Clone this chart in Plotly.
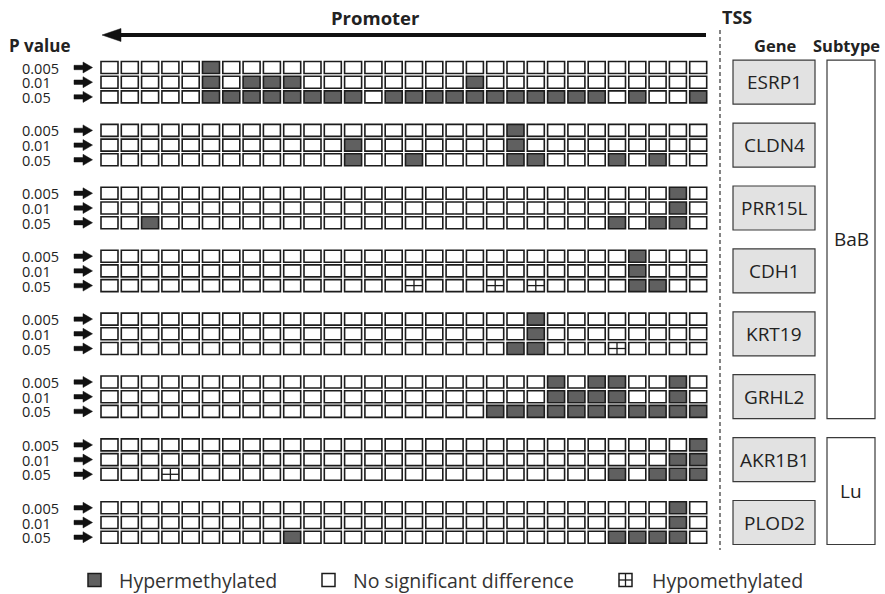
import plotly.graph_objects as go

W, H = 885, 594

genes = ["ESRP1", "CLDN4", "PRR15L", "CDH1", "KRT19", "GRHL2", "AKR1B1", "PLOD2"]
p_levels = ["0.005", "0.01", "0.05"]
n_sites = 30
subtypes = ["BaB", "Lu"]
subtype_members = [genes[:6], genes[6:]]

# Hypermethylated CpG sites per gene, one list per p-value cut-off
# (site 0 is the most upstream, site 29 sits next to the TSS)
hyper_sites = {
    "ESRP1": [[5], [5, 7, 8, 9, 18],
              [5, 6, 7, 8, 9, 10, 11, 12, 14, 15, 16, 17, 18, 19, 20, 21, 22, 23, 24, 26, 29]],
    "CLDN4": [[20], [12, 20], [12, 15, 20, 21, 25, 27]],
    "PRR15L": [[28], [28], [2, 25, 27, 28]],
    "CDH1": [[26], [26], [26, 27]],
    "KRT19": [[21], [21], [20, 21]],
    "GRHL2": [[22, 24, 25, 28], [22, 23, 24, 25, 28],
              [19, 20, 21, 22, 23, 24, 25, 26, 27, 28, 29]],
    "AKR1B1": [[29], [28, 29], [25, 27, 28, 29]],
    "PLOD2": [[28], [28], [9, 25, 26, 27, 28]],
}
# Hypomethylated CpG sites
hypo_sites = {
    "CDH1": [[], [], [15, 19, 21]],
    "KRT19": [[], [], [25]],
    "AKR1B1": [[], [], [3]],
}

legend_labels = ["Hypermethylated", "No significant difference", "Hypomethylated"]

# ---- layout geometry (pixels) ----
GRID_X0 = 101.0
PITCH_X = 20.3
CELL_W = 17.0
ROW_Y0 = 67.5
ROW_PITCH = 14.7
BLOCK_PITCH = 62.9
CELL_H = 12.0

EDGE = "#1c1c1c"
HYPER_FILL = "#606060"
TEXT = "#222222"
FONT = "Open Sans"

shapes = []
annotations = []


def cell_x(c):
    return GRID_X0 + c * PITCH_X


def row_y(block, level):
    return ROW_Y0 + block * BLOCK_PITCH + level * ROW_PITCH


def add_cell(x0, yc, state, w=CELL_W, h=CELL_H, lw=1.6):
    fill = HYPER_FILL if state == "hyper" else "white"
    shapes.append(dict(type="rect", x0=x0, x1=x0 + w, y0=yc - h / 2, y1=yc + h / 2,
                       line=dict(color=EDGE, width=lw), fillcolor=fill, layer="above"))
    if state == "hypo":
        xm = x0 + w / 2
        shapes.append(dict(type="line", x0=xm, x1=xm, y0=yc - h / 2, y1=yc + h / 2,
                           line=dict(color=EDGE, width=1.3)))
        shapes.append(dict(type="line", x0=x0, x1=x0 + w, y0=yc, y1=yc,
                           line=dict(color=EDGE, width=1.3)))


def small_arrow(yc):
    return dict(type="path", fillcolor="#111111", line=dict(color="#111111", width=0.5),
                path=(f"M74,{yc-2.2} L83,{yc-2.2} L83,{yc-5.5} L92.5,{yc} "
                      f"L83,{yc+5.5} L83,{yc+2.2} L74,{yc+2.2} Z"))


# ---- methylation grid ----
for b, g in enumerate(genes):
    for lvl, p in enumerate(p_levels):
        yc = row_y(b, lvl)
        hy = set(hyper_sites.get(g, [[], [], []])[lvl])
        ho = set(hypo_sites.get(g, [[], [], []])[lvl])
        for c in range(n_sites):
            state = "hyper" if c in hy else ("hypo" if c in ho else "none")
            add_cell(cell_x(c), yc, state)
        annotations.append(dict(x=20, y=yc, text=p, showarrow=False, xanchor="left",
                                yanchor="middle", height=14, valign="middle",
                                font=dict(family=FONT, size=14.5, color=TEXT)))
        shapes.append(small_arrow(yc))

    # gene name box
    ym = row_y(b, 1)
    shapes.append(dict(type="rect", x0=733, x1=815, y0=ym - 22, y1=ym + 22,
                       line=dict(color="#3a3a3a", width=1.2), fillcolor="#e2e2e2"))
    annotations.append(dict(x=774, y=ym, text=g, showarrow=False, xanchor="center",
                            yanchor="middle", font=dict(family=FONT, size=19, color=TEXT)))

# ---- subtype boxes ----
for st, members in zip(subtypes, subtype_members):
    b0 = genes.index(members[0])
    b1 = genes.index(members[-1])
    top = row_y(b0, 1) - 22
    bot = row_y(b1, 1) + 22
    shapes.append(dict(type="rect", x0=827, x1=875, y0=top, y1=bot,
                       line=dict(color="#3a3a3a", width=1.2), fillcolor="white"))
    annotations.append(dict(x=851, y=(top + bot) / 2, text=st, showarrow=False,
                            xanchor="center", yanchor="middle",
                            font=dict(family=FONT, size=19, color=TEXT)))

# ---- header ----
annotations += [
    dict(x=375, y=17, text="<b>Promoter</b>", showarrow=False, xanchor="center", yanchor="middle",
         font=dict(family=FONT, size=18.5, color=TEXT)),
    dict(x=737, y=17, text="<b>TSS</b>", showarrow=False, xanchor="center", yanchor="middle",
         font=dict(family=FONT, size=18, color=TEXT)),
    dict(x=7, y=45, text="<b>P value</b>", showarrow=False, xanchor="left", yanchor="middle",
         font=dict(family=FONT, size=17, color=TEXT)),
    dict(x=775, y=45, text="<b>Gene</b>", showarrow=False, xanchor="center", yanchor="middle",
         font=dict(family=FONT, size=16.5, color=TEXT)),
    dict(x=846, y=45, text="<b>Subtype</b>", showarrow=False, xanchor="center", yanchor="middle",
         font=dict(family=FONT, size=16.5, color=TEXT)),
]
shapes.append(dict(type="line", x0=706, x1=118, y0=35, y1=35,
                   line=dict(color="#111111", width=3.8)))
shapes.append(dict(type="path", path="M102,35 L121,28.5 L121,41.5 Z",
                   fillcolor="#111111", line=dict(color="#111111", width=0.5)))
shapes.append(dict(type="line", x0=720, x1=720, y0=30, y1=550,
                   line=dict(color="#333333", width=1.2, dash="4px,3px")))

# ---- legend ----
LEG_Y = 580
leg_icon_x = [88, 322, 619]
leg_text_x = [117, 351, 650]
for state, ix, tx, lab in zip(["hyper", "none", "hypo"], leg_icon_x, leg_text_x, legend_labels):
    add_cell(ix, LEG_Y, state, w=13, h=13, lw=1.5)
    annotations.append(dict(x=tx, y=LEG_Y, text=lab, showarrow=False, xanchor="left",
                            yanchor="middle", font=dict(family=FONT, size=19.5, color="#333333")))

fig = go.Figure()
fig.update_layout(
    width=W, height=H, margin=dict(l=0, r=0, t=0, b=0),
    paper_bgcolor="white", plot_bgcolor="white",
    xaxis=dict(range=[0, W], visible=False, fixedrange=True),
    yaxis=dict(range=[H, 0], visible=False, fixedrange=True),
    shapes=shapes, annotations=annotations, showlegend=False,
)
fig.write_html("out.html")
